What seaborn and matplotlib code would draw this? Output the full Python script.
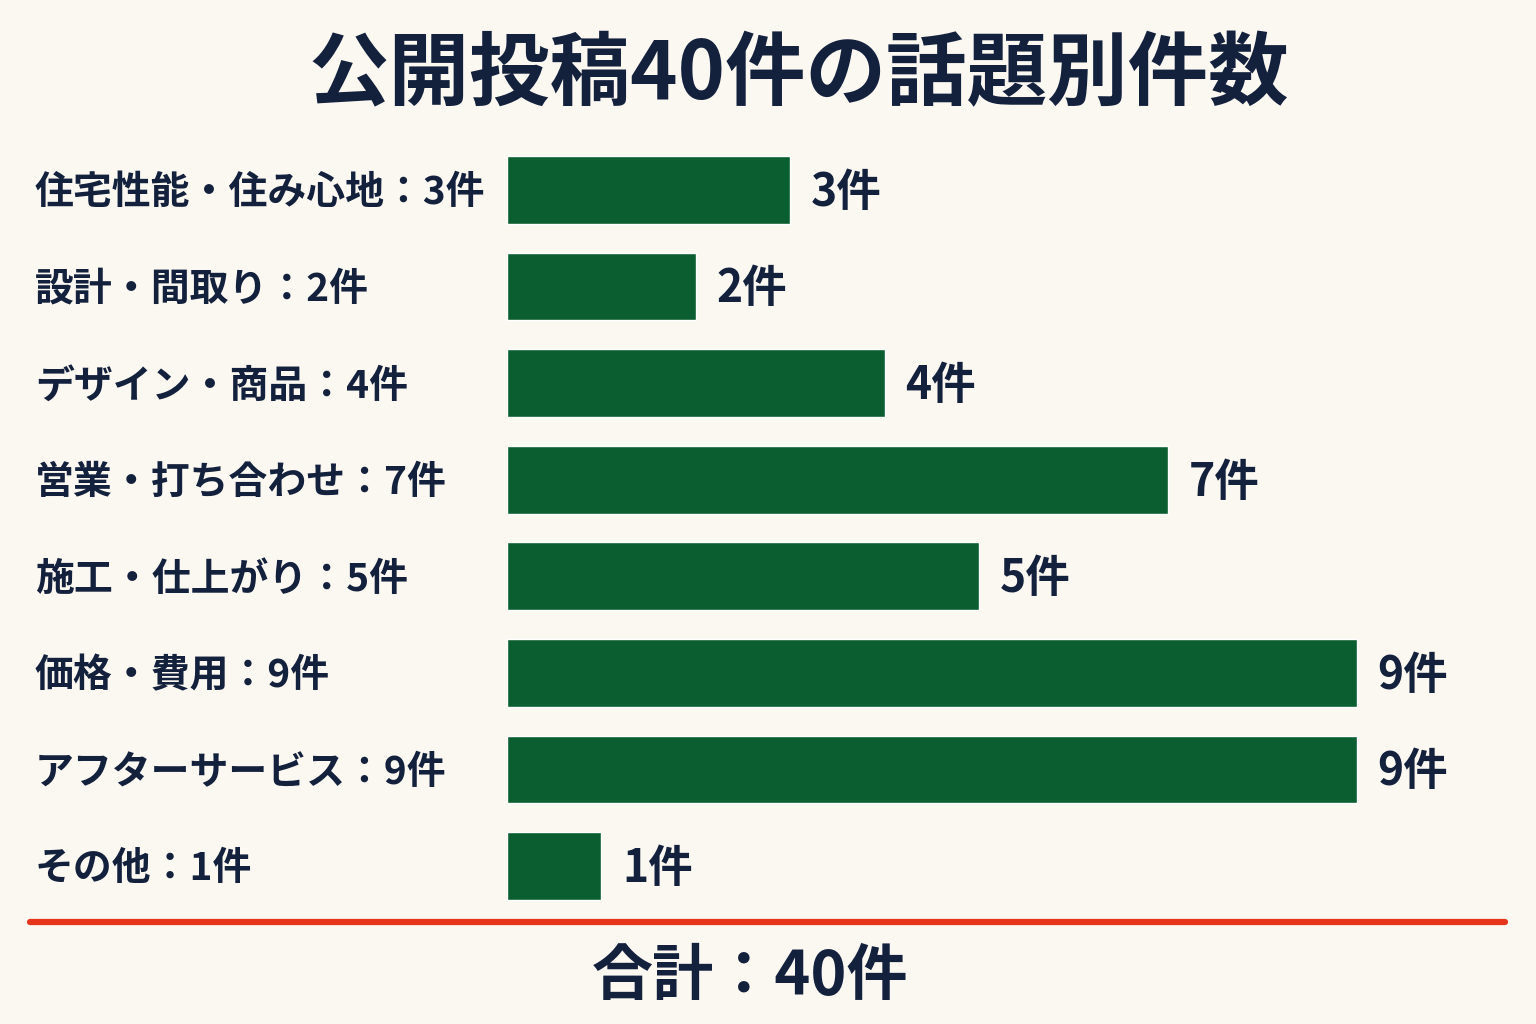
import matplotlib
matplotlib.use("Agg")
import matplotlib.pyplot as plt
import matplotlib.transforms as mtransforms
import seaborn as sns
import pandas as pd

# chart data
topics = ["住宅性能・住み心地", "設計・間取り", "デザイン・商品", "営業・打ち合わせ",
          "施工・仕上がり", "価格・費用", "アフターサービス", "その他"]
counts = [3, 2, 4, 7, 5, 9, 9, 1]
title = "公開投稿40件の話題別件数"
total_label = "合計：40件"

bg = "#FBF8F2"
green = "#0A5E30"
ink = "#14213D"
red = "#E5361B"

sns.set_theme(style="white")
plt.rcParams['font.family'] = ['Noto Sans CJK JP', 'DejaVu Sans']

df = pd.DataFrame({"topic": topics, "count": counts})

fig = plt.figure(figsize=(15.36, 10.24), dpi=100, facecolor=bg)
ax = fig.add_axes([507 / 1536, 1 - 914.3 / 1024, (1505 - 507) / 1536, 772.6 / 1024])
ax.set_facecolor(bg)

sns.barplot(data=df, y="topic", x="count", color=green, orient="h",
            width=0.7, saturation=1, ax=ax)

ax.set_xlim(0, (1505 - 507) / 94.4)
ax.set_ylim(7.5, -0.5)
ax.set_xlabel("")
ax.set_ylabel("")
ax.set_xticks([])
ax.set_yticks([])
for s in ax.spines.values():
    s.set_visible(False)

# left labels (figure x, data y)
trans = mtransforms.blended_transform_factory(fig.transFigure, ax.transData)
for i, (t, c) in enumerate(zip(topics, counts)):
    ax.text(35 / 1536, i + 0.03, f"{t}：{c}件", transform=trans, ha="left", va="center",
            fontsize=28, fontweight="bold", color=ink)
    ax.text(c + 0.22, i + 0.03, f"{c}件", ha="left", va="center",
            fontsize=32, fontweight="bold", color=ink)

fig.text(799 / 1536, 1 - 76 / 1024, title, ha="center", va="center",
         fontsize=58, fontweight="bold", color=ink)

fig.add_artist(plt.Line2D([30 / 1536, 1505 / 1536], [1 - 922 / 1024] * 2,
                          color=red, linewidth=4.5, solid_capstyle="round"))

fig.text(750 / 1536, 1 - 977 / 1024, total_label, ha="center", va="center",
         fontsize=44, fontweight="bold", color=ink)

fig.savefig("out.png", dpi=100, facecolor=bg)
